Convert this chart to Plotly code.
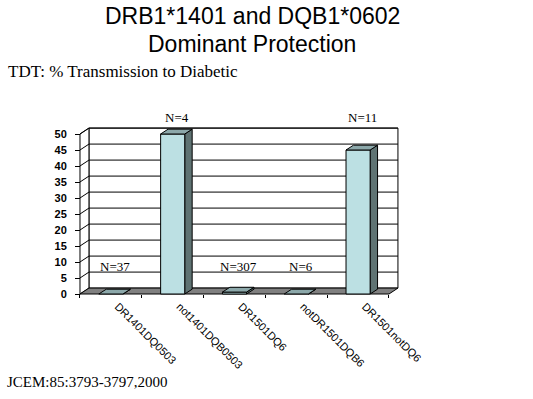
import plotly.graph_objects as go

# ---- data ----
categories = ["DR1401DQ0503", "not1401DQB0503", "DR1501DQ6", "notDR1501DQB6", "DR1501notDQ6"]
pct_transmission = [0, 50, 0.6, 0, 45]
n_labels = ["N=37", "N=4", "N=307", "N=6", "N=11"]
y_ticks = [0, 5, 10, 15, 20, 25, 30, 35, 40, 45, 50]

# ---- geometry / style ----
W, H = 533, 399
ML, MR, MT, MB = 74, 129, 124, 102
PW, PH = W - ML - MR, H - MT - MB
X0, X1 = -0.597, 4.743
Y0, Y1 = -0.9375, 53.125
WDX, WDY = 0.145, 1.85     # wall depth (data units)
BDX, BDY = 0.12, 1.5       # bar depth
HW = 0.195                 # bar half width
YMAX = 50
FRONT = "#BCE0E3"
TOP = "#8CA8AA"
SIDE = "#5F7373"
FLOOR = "#808080"

fig = go.Figure()


def poly(xs, ys, fill, line="black", width=1):
    fig.add_trace(go.Scatter(
        x=list(xs) + [xs[0]], y=list(ys) + [ys[0]], mode="lines", fill="toself",
        fillcolor=fill, line=dict(color=line, width=width), hoverinfo="skip",
        showlegend=False))


def seg(xs, ys, color="black", width=1):
    fig.add_trace(go.Scatter(x=xs, y=ys, mode="lines", line=dict(color=color, width=width),
                             hoverinfo="skip", showlegend=False))


xl, xr = -0.5, len(categories) - 0.5
# back wall
poly([xl + WDX, xr + WDX, xr + WDX, xl + WDX], [WDY, WDY, YMAX + WDY, YMAX + WDY], "white")
# left wall
poly([xl, xl + WDX, xl + WDX, xl], [0, WDY, YMAX + WDY, YMAX], "white")
# grid lines
gx, gy = [], []
for v in y_ticks[1:]:
    gx += [xl, xl + WDX, xr + WDX, None]
    gy += [v, v + WDY, v + WDY, None]
seg(gx, gy)
# floor
poly([xl, xr, xr + WDX, xl + WDX], [0, 0, WDY, WDY], FLOOR)

# bars
for i, v in enumerate(pct_transmission):
    a, b = i - HW, i + HW
    poly([b, b + BDX, b + BDX, b], [0, BDY, v + BDY, v], SIDE)
    if v > 0:
        poly([a, b, b, a], [0, 0, v, v], FRONT)
    poly([a, b, b + BDX, a + BDX], [v, v, v + BDY, v + BDY], TOP)

SANS = "Arial, Liberation Sans"
SERIF = "Times New Roman, Liberation Serif"

# N labels
for i, (v, t) in enumerate(zip(pct_transmission, n_labels)):
    ly = 55.2 if v > 20 else 8.75
    fig.add_annotation(x=i + 0.07, y=(ly - Y0) / (Y1 - Y0), text=t, showarrow=False,
                       xref="x", yref="paper", xanchor="center", yanchor="middle",
                       font=dict(family=SERIF, size=13, color="black"))


def px(x, y):
    return (x - ML) / PW, (H - MB - y) / PH


def text(x, y, s, size, family, xanchor):
    xp, yp = px(x, y)
    fig.add_annotation(x=xp, y=yp, xref="paper", yref="paper", text=s, showarrow=False,
                       xanchor=xanchor, yanchor="middle",
                       font=dict(family=family, size=size, color="black"))


text(252, 16, "DRB1*1401 and DQB1*0602", 23, SANS, "center")
text(252, 44, "Dominant Protection", 23, SANS, "center")
text(6, 72, "TDT: % Transmission to Diabetic", 17, SERIF, "left")
text(5, 382, "JCEM:85:3793-3797,2000", 15, SERIF, "left")

fig.update_layout(
    width=W, height=H, margin=dict(l=ML, r=MR, t=MT, b=MB),
    paper_bgcolor="white", plot_bgcolor="white", showlegend=False,
    xaxis=dict(range=[X0, X1], anchor="free", position=(0 - Y0) / (Y1 - Y0),
               tickmode="array", tickvals=list(range(len(categories))), ticktext=categories,
               tickangle=45, ticks="", showgrid=False, zeroline=False, showline=False,
               ticklabelshift=7, ticklabelstandoff=3,
               tickfont=dict(family=SANS, size=11, color="black"),
               minor=dict(tickmode="array", tickvals=[k - 0.5 for k in range(len(categories) + 1)],
                          ticks="outside", ticklen=3, tickcolor="black", showgrid=False)),
    yaxis=dict(range=[Y0, Y1], anchor="free", position=(xl - X0) / (X1 - X0),
               tickmode="array", tickvals=y_ticks, ticks="outside", ticklen=5,
               tickcolor="black", showgrid=False, zeroline=False, showline=False,
               ticklabelstandoff=6,
               tickfont=dict(family=SANS, size=11, color="black", weight="bold")),
)

fig.write_html("out.html", config={"displayModeBar": False},
               post_script="document.body.style.margin='0';")
